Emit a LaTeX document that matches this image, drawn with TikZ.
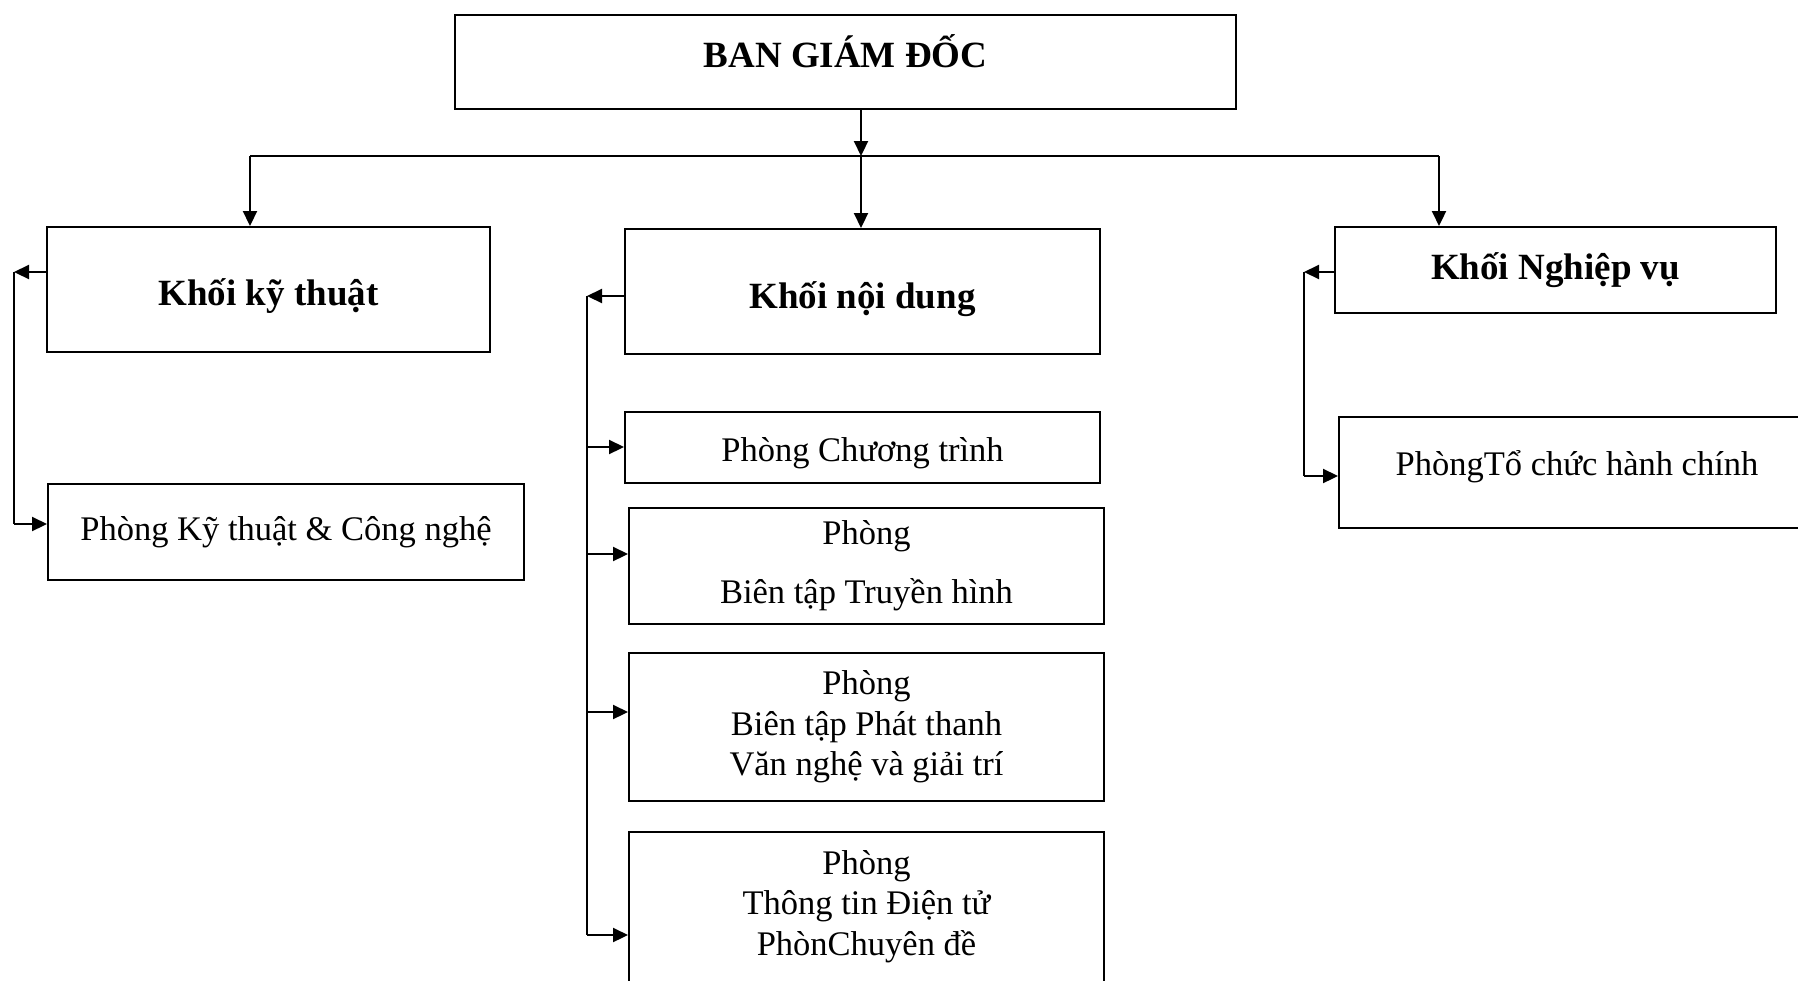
\documentclass[tikz,border=0pt]{standalone}
\usepackage{fontspec}
\setmainfont{Liberation Serif}
\usetikzlibrary{arrows.meta}

% move a one-line label up or down inside its box without changing the box
\newcommand{\shifttext}[2]{\raisebox{#1}[\height][\depth]{#2}}

\tikzset{
  box/.style={draw, line width=1pt, inner sep=0pt, anchor=north west, align=center,
              font=\fontsize{17.25}{20.25}\selectfont},
  headbox/.style={box, font=\fontsize{18.5}{22}\selectfont\bfseries},
  link/.style={line width=1.1pt},
  arr/.style={link, -{Triangle[length=7.5pt,width=7pt]}}
}

\begin{document}
\begin{tikzpicture}[x=0.5pt, y=-0.5pt]
  \clip (0,0) rectangle (1798,980);
  \fill[white] (0,0) rectangle (1798,980);

  % management board
  \node[headbox, minimum width=390.5pt, minimum height=47pt] (bgd) at (454,14) {\shifttext{5.5pt}{BAN GIÁM ĐỐC}};

  % the three divisions
  \node[headbox, minimum width=221.5pt, minimum height=62.5pt] (kkt) at (46,226) {\shifttext{-3.5pt}{Khối kỹ thuật}};
  \node[headbox, minimum width=237.5pt, minimum height=62.5pt] (knd) at (624,228) {\shifttext{-4pt}{Khối nội dung}};
  \node[headbox, minimum width=220.5pt, minimum height=43pt] (knv) at (1334,226) {Khối Nghiệp vụ};

  % departments
  \node[box, minimum width=238pt, minimum height=48pt] (pkt) at (47,483) {Phòng Kỹ thuật \& Công nghệ};
  \node[box, minimum width=237.5pt, minimum height=35.5pt] (pct) at (624,411) {\shifttext{-2.8pt}{Phòng Chương trình}};
  \node[box, minimum width=237.5pt, minimum height=58pt] (pbt) at (628,507) {Phòng\\[9.25pt]Biên tập Truyền hình};
  \node[box, minimum width=237.5pt, minimum height=74pt] (ppt) at (628,652) {Phòng\\Biên tập Phát thanh\\Văn nghệ và giải trí};
  \node[box, minimum width=237.5pt, minimum height=91pt] (pttdt) at (628,831) {Phòng\\Thông tin Điện tử\\PhònChuyên đề\\~};
  \node[box, minimum width=238pt, minimum height=55.5pt] (ptc) at (1338,416) {\shifttext{2.8pt}{PhòngTổ chức hành chính}};

  % routing points
  \coordinate (j)  at (861,156);
  \coordinate (jl) at (250,156);
  \coordinate (jr) at (1439,156);
  \coordinate (l1) at (14,272);
  \coordinate (l2) at (14,524);
  \coordinate (m1) at (587,296);
  \coordinate (m2) at (587,447);
  \coordinate (m3) at (587,554);
  \coordinate (m4) at (587,712);
  \coordinate (m5) at (587,935);
  \coordinate (r1) at (1304,272);
  \coordinate (r2) at (1304,476);

  % board to divisions
  \draw[arr] (bgd.south -| j) -- (j);
  \draw[link] (jl) -- (jr);
  \draw[arr] (jl) -- (kkt.north -| jl);
  \draw[arr] (j) -- (knd.north -| j);
  \draw[arr] (jr) -- (knv.north -| jr);

  % technical division
  \draw[arr] (kkt.west |- l1) -- (l1);
  \draw[link] (l1) -- (l2);
  \draw[arr] (l2) -- (pkt.west |- l2);

  % content division
  \draw[arr] (knd.west |- m1) -- (m1);
  \draw[link] (m1) -- (m5);
  \draw[arr] (m2) -- (pct.west |- m2);
  \draw[arr] (m3) -- (pbt.west |- m3);
  \draw[arr] (m4) -- (ppt.west |- m4);
  \draw[arr] (m5) -- (pttdt.west |- m5);

  % operations division
  \draw[arr] (knv.west |- r1) -- (r1);
  \draw[link] (r1) -- (r2);
  \draw[arr] (r2) -- (ptc.west |- r2);
\end{tikzpicture}
\end{document}
